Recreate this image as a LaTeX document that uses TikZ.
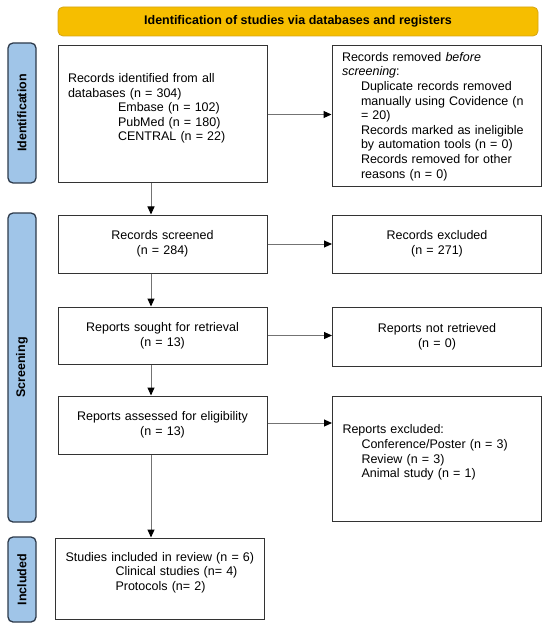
\documentclass[tikz,border=0pt]{standalone}
\usepackage{fontspec}
\setmainfont{Liberation Sans}
\usetikzlibrary{arrows.meta}
\definecolor{bannerfill}{RGB}{246,190,0}
\definecolor{bannerline}{RGB}{214,165,20}
\definecolor{phasefill}{RGB}{160,197,232}
\definecolor{phaseline}{RGB}{45,58,75}

\begin{document}
\begin{tikzpicture}[x=1pt,y=-1pt,
    box/.style={rectangle,draw=black!80,line width=1pt,inner xsep=10pt,inner ysep=0pt,
      font=\fontsize{12.5}{14.6}\selectfont},
    lbox/.style={box,text width=189pt,align=left},
    cbox/.style={box,text width=189pt,align=center},
    phase/.style={rectangle,rounded corners=5pt,draw=phaseline,fill=phasefill,line width=1.3pt,
      minimum height=28pt,inner sep=0pt,rotate=90,font=\fontsize{12.5}{15}\selectfont\bfseries},
    banner/.style={rectangle,rounded corners=5pt,draw=bannerline,fill=bannerfill,line width=0.8pt,
      minimum width=480pt,minimum height=29pt,font=\fontsize{12.5}{15}\selectfont\bfseries},
    flow/.style={draw=black!55,line width=1pt,-{Triangle[length=8pt,width=7pt,color=black]}}]
\useasboundingbox (0,0) rectangle (550,628);
\node[banner] (head) at (298,21.5) {Identification of studies via databases and registers};
\node[phase,minimum width=140pt] (idphase) at (22,113) {Identification};
\node[phase,minimum width=309pt] (scphase) at (22,367.5) {Screening};
\node[phase,minimum width=85pt] (inphase) at (22,579.5) {Included};
\node[lbox,minimum height=137pt] (ident) at (162.5,114.5) {Records identified from all\\
  databases (n = 304)\\ \hspace*{50pt}Embase (n = 102)\\ \hspace*{50pt}PubMed (n = 180)\\
  \hspace*{50pt}CENTRAL (n = 22)\\ \mbox{}};
\node[lbox,minimum height=141pt] (removed) at (436.5,116.5) {Records removed \emph{before}\\
  \emph{screening}:\\ \hspace*{19pt}Duplicate records removed\\
  \hspace*{19pt}manually using Covidence (n\\ \hspace*{19pt}= 20)\\
  \hspace*{19pt}Records marked as ineligible\\ \hspace*{19pt}by automation tools (n = 0)\\
  \hspace*{19pt}Records removed for other\\ \hspace*{19pt}reasons (n = 0)};
\node[cbox,minimum height=58pt] (screen) at (162.5,244) {Records screened\\ (n = 284)};
\node[cbox,minimum height=58pt] (excl) at (437,244) {Records excluded\\ (n = 271)};
\node[cbox,minimum height=57pt] (sought) at (162.5,335.5) {Reports sought for retrieval\\ (n = 13)};
\node[cbox,minimum height=59pt] (notret) at (437,336.5) {Reports not retrieved\\ (n = 0)};
\node[cbox,minimum height=58pt] (assess) at (162.5,425) {Reports assessed for eligibility\\ (n = 13)};
\node[lbox,minimum height=125pt] (rexcl) at (437,458.5) {Reports excluded:\\
  \hspace*{19pt}Conference/Poster (n = 3)\\ \hspace*{19pt}Review (n = 3)\\
  \hspace*{19pt}Animal study (n = 1)\\ \mbox{}};
\node[lbox,minimum height=81pt] (incl) at (160,578.5) {\mbox{Studies included in review (n = 6)}\\
  \hspace*{50pt}Clinical studies (n= 4)\\ \hspace*{50pt}Protocols (n= 2)\\ \mbox{}};
\coordinate (spine) at (151,0);
\draw[flow] (ident.south -| spine) -- (screen.north -| spine);
\draw[flow] (screen.south -| spine) -- (sought.north -| spine);
\draw[flow] (sought.south -| spine) -- (assess.north -| spine);
\draw[flow] (assess.south -| spine) -- (incl.north -| spine);
\draw[flow] (ident.east) -- (ident.east -| removed.west);
\draw[flow] (screen.east) -- (screen.east -| excl.west);
\draw[flow] (sought.east) -- (sought.east -| notret.west);
\draw[flow] ([yshift=2pt]assess.east) -- ([yshift=2pt]assess.east -| rexcl.west);
\end{tikzpicture}
\end{document}
